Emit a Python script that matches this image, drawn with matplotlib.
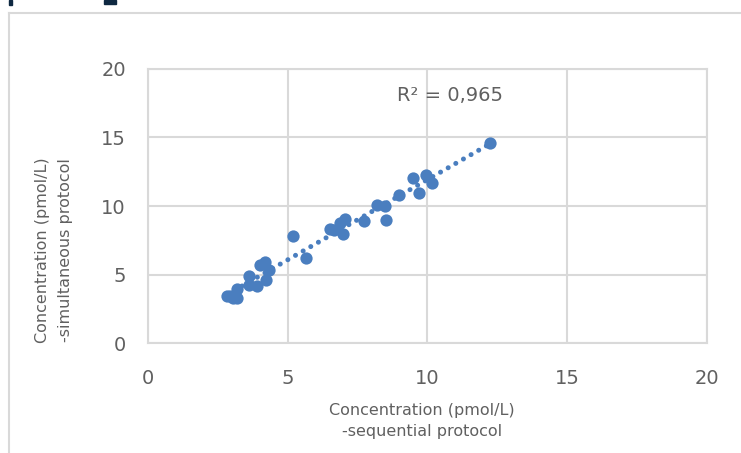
import matplotlib.pyplot as plt
import numpy as np
from matplotlib.lines import Line2D
from matplotlib.patches import Rectangle

# sequential protocol (x) vs simultaneous protocol (y), pmol/L
seq = [12.25, 9.96, 10.16, 9.49, 9.69, 9.00, 8.18, 8.49, 8.51, 7.74,
       7.06, 6.87, 6.99, 6.51, 6.65, 5.18, 5.65, 4.19, 4.01, 4.32,
       3.61, 4.23, 3.63, 3.89, 3.18, 2.82, 3.06, 2.95, 3.20]
sim = [14.59, 12.28, 11.67, 12.04, 10.95, 10.80, 10.07, 9.98, 8.96, 8.91,
       9.08, 8.76, 7.94, 8.30, 8.25, 7.79, 6.21, 5.92, 5.68, 5.32,
       4.90, 4.59, 4.27, 4.18, 3.93, 3.45, 3.26, 3.40, 3.30]
r2_text = "R² = 0,965"
ticks = [0, 5, 10, 15, 20]

blue = '#4A7EBF'
grey = '#606060'
grid = '#D9D9D9'

fig = plt.figure(figsize=(7.41, 4.53), dpi=100)
ax = fig.add_axes([0.1997, 0.2428, 0.7543, 0.6049])

ax.scatter(seq, sim, s=78, color=blue, zorder=3, linewidths=0)

# linear trendline over data range
k, b = np.polyfit(seq, sim, 1)
xs = np.array([min(seq), max(seq)])
ax.plot(xs, k * xs + b, color=blue, linewidth=3.6,
        linestyle=(0, (0.01, 1.75)), dash_capstyle='round', zorder=2)

ax.set_xlim(0, 20)
ax.set_ylim(0, 20)
ax.set_xticks(ticks)
ax.set_yticks(ticks)
ax.grid(True, color=grid, linewidth=1.5)
ax.set_axisbelow(True)
for sp in ax.spines.values():
    sp.set_color(grid)
    sp.set_linewidth(1.5)
ax.tick_params(length=0, labelsize=14, labelcolor=grey)
ax.tick_params(axis='x', pad=19)
ax.tick_params(axis='y', pad=16)

ax.text(8.9, 18.06, r2_text, fontsize=14, color=grey, va='center', ha='left')

fig.text(0.073, 0.448, "Concentration (pmol/L)\n-simultaneous protocol",
         rotation=90, ha='center', va='center', fontsize=11.5, color=grey,
         linespacing=1.6)
fig.text(0.569, 0.071, "Concentration (pmol/L)\n-sequential protocol",
         ha='center', va='center', fontsize=11.5, color=grey, linespacing=1.5)

# outer chart frame and bits of the page above it
fig.add_artist(Line2D([9 / 741, 1], [1 - 13 / 453, 1 - 13 / 453],
                      transform=fig.transFigure, color=grid, linewidth=1.5))
fig.add_artist(Line2D([9 / 741, 9 / 741], [0, 1 - 13 / 453],
                      transform=fig.transFigure, color=grid, linewidth=1.5))
fig.add_artist(Rectangle((9 / 741, 1 - 5 / 453), 3 / 741, 5 / 453,
                         transform=fig.transFigure, color='#0E2841'))
fig.add_artist(Rectangle((104 / 741, 1 - 4 / 453), 12 / 741, 4 / 453,
                         transform=fig.transFigure, color='#0E2841'))

fig.savefig('out.png', dpi=100)
